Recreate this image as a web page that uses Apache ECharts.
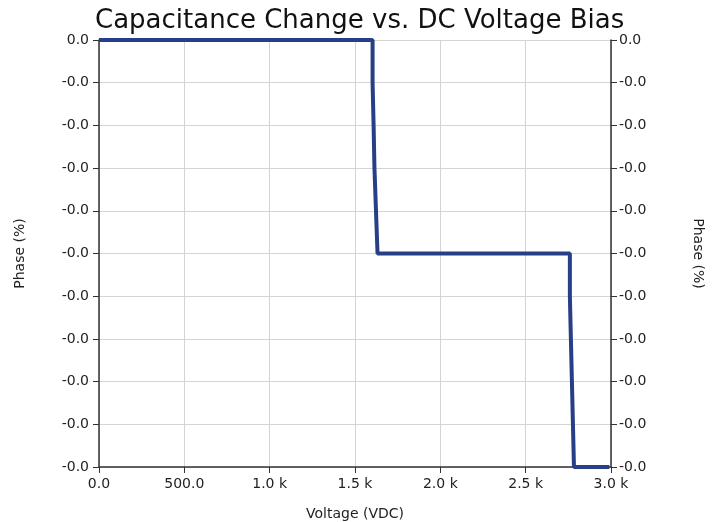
<!DOCTYPE html>
<html>
<head>
<meta charset="utf-8">
<script src="https://cdn.jsdelivr.net/npm/echarts@6/dist/echarts.min.js"></script>
<style>
  html, body { margin: 0; padding: 0; background: #fff; }
  #chart { width: 724px; height: 522px; }
</style>
</head>
<body>
<div id="chart"></div>
<script>
  // step-down curve (voltage in VDC, phase in %)
  var voltage = [0, 1603, 1609, 1614, 1623, 1632, 2759, 2765, 2771, 2777, 2783, 2990]
  var phase = [0, -0.001, -0.002, -0.003, -0.004, -0.005, -0.006, -0.007, -0.008, -0.009, -0.01, -0.01]

  var xTicks = [0, 3000, 500]
  var yTicks = [-0.01, 0, 0.001]

  var font = 'DejaVu Sans'

  function fmtX(v) {
    if (v >= 1000) return (v / 1000).toFixed(1) + ' k'
    return v.toFixed(1)
  }
  function fmtY(v) {
    return v.toFixed(1)
  }

  var points = voltage.map(function (v, i) { return [v, phase[i]] })

  var axisLine = { show: true, onZero: false, lineStyle: { color: '#333', width: 1.5 } }
  var tick = { show: true, length: 6, lineStyle: { color: '#333' } }
  var split = { show: true, lineStyle: { color: '#d4d4d4', width: 1 } }
  var label = { color: '#222', fontSize: 14, fontFamily: font }

  var chart = echarts.init(document.getElementById('chart'))
  chart.setOption({
    animation: false,
    title: {
      text: 'Capacitance Change vs. DC Voltage Bias',
      left: 90,
      top: 3,
      textStyle: { fontFamily: font, fontSize: 26, fontWeight: 'normal', color: '#111' }
    },
    grid: { left: 99, right: 113, top: 40, bottom: 55, outerBoundsMode: 'none' },
    xAxis: {
      type: 'value',
      position: 'bottom',
      min: xTicks[0],
      max: xTicks[1],
      interval: xTicks[2],
      name: 'Voltage (VDC)',
      nameLocation: 'middle',
      nameGap: 40,
      nameTextStyle: { fontFamily: font, fontSize: 14, color: '#222' },
      axisLine: axisLine,
      axisTick: tick,
      splitLine: split,
      axisLabel: Object.assign({ formatter: fmtX, margin: 10 }, label)
    },
    yAxis: [
      {
        type: 'value',
        min: yTicks[0],
        max: yTicks[1],
        interval: yTicks[2],
        name: 'Phase (%)',
        nameLocation: 'middle',
        nameGap: 72,
        nameTextStyle: { fontFamily: font, fontSize: 14, color: '#222' },
        axisLine: axisLine,
        axisTick: tick,
        splitLine: split,
        axisLabel: Object.assign({ formatter: fmtY, margin: 10 }, label)
      },
      {
        type: 'value',
        position: 'right',
        min: yTicks[0],
        max: yTicks[1],
        interval: yTicks[2],
        name: 'Phase (%)',
        nameLocation: 'middle',
        nameGap: 80,
        nameRotate: -90,
        nameTextStyle: { fontFamily: font, fontSize: 14, color: '#222' },
        axisLine: axisLine,
        axisTick: tick,
        splitLine: { show: false },
        axisLabel: Object.assign({ formatter: fmtY, margin: 8 }, label)
      }
    ],
    series: [
      {
        type: 'line',
        step: 'end',
        data: points,
        symbol: 'none',
        lineStyle: { color: '#283e86', width: 4 }
      }
    ]
  })
</script>
</body>
</html>
